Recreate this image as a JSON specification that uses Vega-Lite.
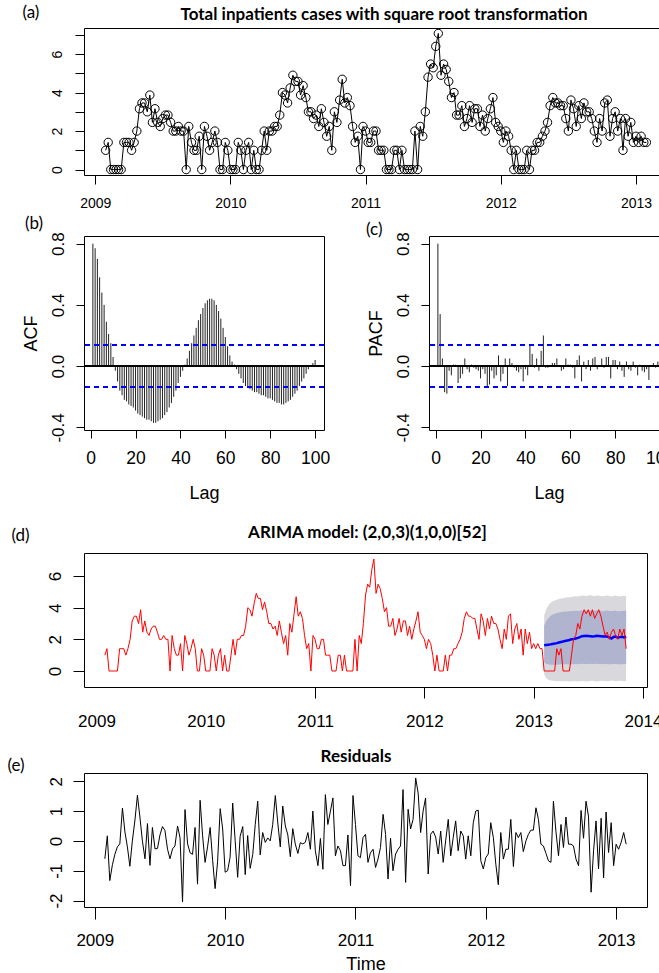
{
"$schema":"https://vega.github.io/schema/vega-lite/v6.json",
"background":"white",
"padding":{"left":6,"top":2,"right":0,"bottom":0},
"config":{
 "view":{"stroke":"black","strokeWidth":1},
 "axis":{"domain":false,"grid":false,"tickColor":"black","tickWidth":1,"labelColor":"black","labelFont":"Liberation Sans","titleFont":"Liberation Sans","titleFontWeight":"normal","titleColor":"black","labelFlush":false,"labelOverlap":false}
},
"datasets":{
"ts":[
{"t":2009.077,"v":1,"r":-0.6},{"t":2009.096,"v":1.41,"r":0.17},{"t":2009.115,"v":0,"r":-1.33},{"t":2009.135,"v":0,"r":-0.8},{"t":2009.154,"v":0,"r":-0.45},{"t":2009.173,"v":0,"r":-0.2},{"t":2009.192,"v":0,"r":-0.1},{"t":2009.212,"v":1.41,"r":1.1},{"t":2009.231,"v":1.41,"r":0.3},{"t":2009.25,"v":1.41,"r":-0.2},{"t":2009.269,"v":1,"r":-0.85},{"t":2009.288,"v":1.41,"r":0},{"t":2009.308,"v":2,"r":0.7},{"t":2009.327,"v":3.16,"r":1.53},{"t":2009.346,"v":3.46,"r":0.8},{"t":2009.365,"v":3.46,"r":0},{"t":2009.385,"v":3,"r":-0.6},{"t":2009.404,"v":3.87,"r":0.58},{"t":2009.423,"v":2.45,"r":-0.82},{"t":2009.442,"v":3.16,"r":0.45},{"t":2009.462,"v":2.45,"r":-0.27},{"t":2009.481,"v":2.24,"r":-0.25},{"t":2009.5,"v":2.65,"r":0.2},{"t":2009.519,"v":2.83,"r":0.48},{"t":2009.538,"v":2.83,"r":0.35},{"t":2009.558,"v":2.45,"r":-0.28},{"t":2009.577,"v":2,"r":-0.6},{"t":2009.596,"v":2,"r":-0.27},{"t":2009.615,"v":2.24,"r":-0.17},{"t":2009.635,"v":2,"r":0.5},{"t":2009.654,"v":2,"r":0.1},{"t":2009.673,"v":0,"r":-2.05},{"t":2009.692,"v":2.24,"r":1.05},{"t":2009.712,"v":1.41,"r":-0.1},{"t":2009.731,"v":1,"r":-0.4},{"t":2009.75,"v":1,"r":-0.45},{"t":2009.769,"v":1.73,"r":0.45},{"t":2009.788,"v":0,"r":-1.45},{"t":2009.808,"v":2.24,"r":1.36},{"t":2009.827,"v":1.73,"r":0.17},{"t":2009.846,"v":1,"r":-0.72},{"t":2009.865,"v":1.41,"r":-0.2},{"t":2009.885,"v":2,"r":0.45},{"t":2009.904,"v":1.41,"r":-0.65},{"t":2009.923,"v":0,"r":-1.6},{"t":2009.942,"v":0,"r":-0.7},{"t":2009.962,"v":1.41,"r":1.08},{"t":2009.981,"v":1,"r":0.4},
{"t":2010.0,"v":0,"r":-1.05},{"t":2010.019,"v":0,"r":-1.0},{"t":2010.038,"v":0,"r":-0.55},{"t":2010.058,"v":1.41,"r":1.27},{"t":2010.077,"v":1,"r":0},{"t":2010.096,"v":0,"r":-1.22},{"t":2010.115,"v":1,"r":0.15},{"t":2010.135,"v":1.41,"r":0.48},{"t":2010.154,"v":0,"r":-1.13},{"t":2010.173,"v":1,"r":0.18},{"t":2010.192,"v":0,"r":-0.92},{"t":2010.212,"v":0,"r":-0.45},{"t":2010.231,"v":1,"r":0.55},{"t":2010.25,"v":2,"r":1.33},{"t":2010.269,"v":1,"r":-0.47},{"t":2010.288,"v":2,"r":0.28},{"t":2010.308,"v":2,"r":-0.05},{"t":2010.327,"v":2.24,"r":0.1},{"t":2010.346,"v":2.24,"r":0},{"t":2010.365,"v":2.83,"r":0.55},{"t":2010.385,"v":4,"r":1.52},{"t":2010.404,"v":3.87,"r":0.6},{"t":2010.423,"v":3.46,"r":-0.2},{"t":2010.442,"v":4.24,"r":1.17},{"t":2010.462,"v":4.9,"r":0.5},{"t":2010.481,"v":4.58,"r":0.2},{"t":2010.5,"v":4.58,"r":-0.53},{"t":2010.519,"v":3.87,"r":0.41},{"t":2010.538,"v":4.36,"r":-0.1},{"t":2010.558,"v":3.74,"r":-0.42},{"t":2010.577,"v":3,"r":-0.06},{"t":2010.596,"v":3,"r":-0.1},{"t":2010.615,"v":2.65,"r":-0.05},{"t":2010.635,"v":2.83,"r":0.28},{"t":2010.654,"v":2.24,"r":-0.28},{"t":2010.673,"v":3.16,"r":1.0},{"t":2010.692,"v":2.45,"r":-0.33},{"t":2010.712,"v":1.73,"r":-0.83},{"t":2010.731,"v":2.24,"r":0.08},{"t":2010.75,"v":1,"r":-0.95},{"t":2010.769,"v":3,"r":1.55},{"t":2010.788,"v":2.45,"r":0.55},{"t":2010.808,"v":3.61,"r":1.0},{"t":2010.827,"v":4.69,"r":1.44},{"t":2010.846,"v":3.46,"r":-0.5},{"t":2010.865,"v":3.74,"r":-0.17},{"t":2010.885,"v":3.32,"r":-0.33},{"t":2010.904,"v":2.24,"r":-0.83},{"t":2010.923,"v":1.41,"r":-0.83},{"t":2010.942,"v":1.73,"r":0.2},{"t":2010.962,"v":0,"r":-1.5},{"t":2010.981,"v":2.24,"r":1.52},
{"t":2011.0,"v":2,"r":0.55},{"t":2011.019,"v":1.41,"r":-0.5},{"t":2011.038,"v":1.41,"r":-0.56},{"t":2011.058,"v":2,"r":0.11},{"t":2011.077,"v":2,"r":0.22},{"t":2011.096,"v":1,"r":-0.72},{"t":2011.115,"v":1,"r":-0.4},{"t":2011.135,"v":1,"r":-0.28},{"t":2011.154,"v":0,"r":-0.89},{"t":2011.173,"v":0,"r":-0.61},{"t":2011.192,"v":0,"r":-0.22},{"t":2011.212,"v":1,"r":0.89},{"t":2011.231,"v":1,"r":0.22},{"t":2011.25,"v":0,"r":-1.28},{"t":2011.269,"v":1,"r":0.09},{"t":2011.288,"v":0,"r":-1.0},{"t":2011.308,"v":0,"r":-0.44},{"t":2011.327,"v":0,"r":-0.28},{"t":2011.346,"v":0,"r":-0.17},{"t":2011.365,"v":2,"r":1.72},{"t":2011.385,"v":0,"r":-1.39},{"t":2011.404,"v":2.24,"r":1.06},{"t":2011.423,"v":1.73,"r":0.4},{"t":2011.442,"v":3,"r":0.72},{"t":2011.462,"v":4.8,"r":2.11},{"t":2011.481,"v":5.48,"r":1.6},{"t":2011.5,"v":5.29,"r":0.28},{"t":2011.519,"v":6.4,"r":1.0},{"t":2011.538,"v":7.07,"r":1.44},{"t":2011.558,"v":4.9,"r":-1.11},{"t":2011.577,"v":5.48,"r":0.22},{"t":2011.596,"v":5.2,"r":0.33},{"t":2011.615,"v":4.58,"r":0.13},{"t":2011.635,"v":3.74,"r":-0.44},{"t":2011.654,"v":4,"r":0.33},{"t":2011.673,"v":2.83,"r":-0.72},{"t":2011.692,"v":2.83,"r":0},{"t":2011.712,"v":3.32,"r":0.72},{"t":2011.731,"v":2.24,"r":-0.5},{"t":2011.75,"v":2.65,"r":0.11},{"t":2011.769,"v":3.32,"r":0.67},{"t":2011.788,"v":2.45,"r":-0.33},{"t":2011.808,"v":3.16,"r":0.33},{"t":2011.827,"v":3.16,"r":0.17},{"t":2011.846,"v":2.24,"r":-0.61},{"t":2011.865,"v":2.83,"r":0.17},{"t":2011.885,"v":2,"r":-0.5},{"t":2011.904,"v":2.65,"r":0.61},{"t":2011.923,"v":3.16,"r":1.0},{"t":2011.942,"v":3.74,"r":1.03},{"t":2011.962,"v":2.45,"r":-0.67},{"t":2011.981,"v":2.24,"r":-0.94},
{"t":2012.0,"v":2,"r":-0.56},{"t":2012.019,"v":1.41,"r":-0.44},{"t":2012.038,"v":2,"r":0.61},{"t":2012.058,"v":1.73,"r":0.11},{"t":2012.077,"v":1,"r":-0.78},{"t":2012.096,"v":0,"r":-1.47},{"t":2012.115,"v":1,"r":0.28},{"t":2012.135,"v":0,"r":-0.61},{"t":2012.154,"v":0,"r":-0.28},{"t":2012.173,"v":0,"r":-0.28},{"t":2012.192,"v":1,"r":0.72},{"t":2012.212,"v":0,"r":-0.86},{"t":2012.231,"v":1,"r":0.28},{"t":2012.25,"v":1,"r":0.11},{"t":2012.269,"v":1.41,"r":0.28},{"t":2012.288,"v":1.41,"r":-0.36},{"t":2012.308,"v":1.73,"r":0},{"t":2012.327,"v":2,"r":0.22},{"t":2012.346,"v":2.45,"r":0.36},{"t":2012.365,"v":3.32,"r":0.36},{"t":2012.385,"v":3.74,"r":1.11},{"t":2012.404,"v":3.46,"r":0.72},{"t":2012.423,"v":3.46,"r":-0.11},{"t":2012.442,"v":3.32,"r":-0.17},{"t":2012.462,"v":3.32,"r":-0.42},{"t":2012.481,"v":2.65,"r":-0.67},{"t":2012.5,"v":2,"r":-0.72},{"t":2012.519,"v":3.61,"r":1.33},{"t":2012.538,"v":3.16,"r":0.33},{"t":2012.558,"v":2.24,"r":-0.5},{"t":2012.577,"v":3.32,"r":0.55},{"t":2012.596,"v":2.65,"r":-0.22},{"t":2012.615,"v":3.46,"r":0.8},{"t":2012.635,"v":3,"r":-0.11},{"t":2012.654,"v":3,"r":-0.11},{"t":2012.673,"v":2.65,"r":-0.17},{"t":2012.692,"v":2,"r":-0.61},{"t":2012.712,"v":1.41,"r":-0.83},{"t":2012.731,"v":2.65,"r":1.02},{"t":2012.75,"v":2,"r":0.09},{"t":2012.769,"v":3.46,"r":1.33},{"t":2012.788,"v":3.61,"r":0.83},{"t":2012.808,"v":1.73,"r":-1.72},{"t":2012.827,"v":2.65,"r":-0.33},{"t":2012.846,"v":3,"r":0.67},{"t":2012.865,"v":2,"r":-0.94},{"t":2012.885,"v":2.65,"r":0.76},{"t":2012.904,"v":1,"r":-1.24},{"t":2012.923,"v":2.65,"r":0.97},{"t":2012.942,"v":1.73,"r":-0.39},{"t":2012.962,"v":2.45,"r":0.61},{"t":2012.981,"v":1.41,"r":-0.83},
{"t":2013.0,"v":1.73,"r":-0.11},{"t":2013.019,"v":1.41,"r":-0.28},{"t":2013.038,"v":1.73,"r":-0.06},{"t":2013.058,"v":1.41,"r":0.28},{"t":2013.077,"v":1.41,"r":-0.11},
{"t":2013.096,"v":0,"f":1.62,"l8":0.55,"h8":2.85,"l9":-0.2,"h9":3.5},
{"t":2013.115,"v":0,"f":1.64,"l8":0.45,"h8":3.15,"l9":-0.45,"h9":3.9},
{"t":2013.135,"v":0,"f":1.66,"l8":0.42,"h8":3.35,"l9":-0.55,"h9":4.15},
{"t":2013.154,"v":0,"f":1.68,"l8":0.4,"h8":3.48,"l9":-0.6,"h9":4.3},
{"t":2013.173,"v":0,"f":1.71,"l8":0.4,"h8":3.56,"l9":-0.62,"h9":4.4},
{"t":2013.192,"v":0,"f":1.73,"l8":0.39,"h8":3.62,"l9":-0.63,"h9":4.45},
{"t":2013.212,"v":1.41,"f":1.76,"l8":0.4,"h8":3.66,"l9":-0.64,"h9":4.5},
{"t":2013.231,"v":1,"f":1.8,"l8":0.41,"h8":3.7,"l9":-0.64,"h9":4.55},
{"t":2013.25,"v":1.41,"f":1.83,"l8":0.42,"h8":3.72,"l9":-0.65,"h9":4.58},
{"t":2013.269,"v":0,"f":1.86,"l8":0.42,"h8":3.74,"l9":-0.65,"h9":4.6},
{"t":2013.288,"v":0,"f":1.9,"l8":0.43,"h8":3.75,"l9":-0.64,"h9":4.62},
{"t":2013.308,"v":0,"f":1.93,"l8":0.42,"h8":3.76,"l9":-0.65,"h9":4.65},
{"t":2013.327,"v":0,"f":1.96,"l8":0.41,"h8":3.77,"l9":-0.66,"h9":4.66},
{"t":2013.346,"v":1,"f":2.0,"l8":0.42,"h8":3.78,"l9":-0.65,"h9":4.68},
{"t":2013.365,"v":2,"f":2.02,"l8":0.43,"h8":3.79,"l9":-0.64,"h9":4.7},
{"t":2013.385,"v":2.24,"f":2.05,"l8":0.44,"h8":3.8,"l9":-0.65,"h9":4.72},
{"t":2013.404,"v":3,"f":2.09,"l8":0.43,"h8":3.79,"l9":-0.66,"h9":4.7},
{"t":2013.423,"v":2.65,"f":2.14,"l8":0.45,"h8":3.81,"l9":-0.65,"h9":4.74},
{"t":2013.442,"v":3.46,"f":2.2,"l8":0.46,"h8":3.82,"l9":-0.63,"h9":4.76},
{"t":2013.462,"v":3.87,"f":2.21,"l8":0.45,"h8":3.81,"l9":-0.64,"h9":4.75},
{"t":2013.481,"v":3.61,"f":2.22,"l8":0.44,"h8":3.8,"l9":-0.66,"h9":4.73},
{"t":2013.5,"v":3.87,"f":2.21,"l8":0.45,"h8":3.82,"l9":-0.65,"h9":4.76},
{"t":2013.519,"v":3.46,"f":2.2,"l8":0.46,"h8":3.83,"l9":-0.63,"h9":4.78},
{"t":2013.538,"v":3.87,"f":2.18,"l8":0.45,"h8":3.81,"l9":-0.62,"h9":4.75},
{"t":2013.558,"v":3.32,"f":2.19,"l8":0.44,"h8":3.8,"l9":-0.64,"h9":4.74},
{"t":2013.577,"v":3.61,"f":2.22,"l8":0.46,"h8":3.82,"l9":-0.66,"h9":4.77},
{"t":2013.596,"v":3.87,"f":2.21,"l8":0.45,"h8":3.81,"l9":-0.65,"h9":4.76},
{"t":2013.615,"v":3.46,"f":2.2,"l8":0.44,"h8":3.8,"l9":-0.63,"h9":4.74},
{"t":2013.635,"v":2.83,"f":2.18,"l8":0.43,"h8":3.78,"l9":-0.62,"h9":4.72},
{"t":2013.654,"v":2.24,"f":2.19,"l8":0.44,"h8":3.8,"l9":-0.64,"h9":4.75},
{"t":2013.673,"v":2.45,"f":2.17,"l8":0.45,"h8":3.82,"l9":-0.65,"h9":4.77},
{"t":2013.692,"v":2,"f":2.12,"l8":0.43,"h8":3.79,"l9":-0.63,"h9":4.73},
{"t":2013.712,"v":2.45,"f":2.05,"l8":0.42,"h8":3.77,"l9":-0.6,"h9":4.7},
{"t":2013.731,"v":2.65,"f":2.15,"l8":0.44,"h8":3.8,"l9":-0.62,"h9":4.74},
{"t":2013.75,"v":2.24,"f":2.18,"l8":0.45,"h8":3.81,"l9":-0.64,"h9":4.76},
{"t":2013.769,"v":2,"f":2.1,"l8":0.43,"h8":3.78,"l9":-0.63,"h9":4.72},
{"t":2013.788,"v":2.65,"f":2.14,"l8":0.42,"h8":3.77,"l9":-0.61,"h9":4.7},
{"t":2013.808,"v":2.24,"f":2.16,"l8":0.43,"h8":3.79,"l9":-0.62,"h9":4.73},
{"t":2013.827,"v":2.65,"f":2.12,"l8":0.45,"h8":3.81,"l9":-0.64,"h9":4.75},
{"t":2013.846,"v":1.41,"f":2.17,"l8":0.44,"h8":3.8,"l9":-0.63,"h9":4.74}
],
"cf":[
{"lag":1,"acf":0.8,"pacf":0.8},{"lag":2,"acf":0.77,"pacf":0.34},{"lag":3,"acf":0.7,"pacf":0.05},{"lag":4,"acf":0.58,"pacf":-0.17},{"lag":5,"acf":0.48,"pacf":-0.18},{"lag":6,"acf":0.4,"pacf":-0.03},{"lag":7,"acf":0.29,"pacf":-0.06},{"lag":8,"acf":0.21,"pacf":0.01},{"lag":9,"acf":0.15,"pacf":0.01},{"lag":10,"acf":0.06,"pacf":-0.11},
{"lag":11,"acf":-0.03,"pacf":-0.08},{"lag":12,"acf":-0.1,"pacf":-0.05},{"lag":13,"acf":-0.16,"pacf":0.05},{"lag":14,"acf":-0.19,"pacf":-0.02},{"lag":15,"acf":-0.22,"pacf":-0.04},{"lag":16,"acf":-0.23,"pacf":0.01},{"lag":17,"acf":-0.25,"pacf":-0.01},{"lag":18,"acf":-0.26,"pacf":-0.02},{"lag":19,"acf":-0.27,"pacf":-0.03},{"lag":20,"acf":-0.29,"pacf":-0.08},
{"lag":21,"acf":-0.31,"pacf":-0.02},{"lag":22,"acf":-0.32,"pacf":-0.05},{"lag":23,"acf":-0.33,"pacf":-0.13},{"lag":24,"acf":-0.34,"pacf":-0.12},{"lag":25,"acf":-0.35,"pacf":-0.03},{"lag":26,"acf":-0.35,"pacf":-0.08},{"lag":27,"acf":-0.36,"pacf":-0.06},{"lag":28,"acf":-0.37,"pacf":0.07},{"lag":29,"acf":-0.37,"pacf":-0.1},{"lag":30,"acf":-0.36,"pacf":-0.05},
{"lag":31,"acf":-0.35,"pacf":0.05},{"lag":32,"acf":-0.34,"pacf":-0.13},{"lag":33,"acf":-0.32,"pacf":0.05},{"lag":34,"acf":-0.3,"pacf":0.02},{"lag":35,"acf":-0.27,"pacf":-0.01},{"lag":36,"acf":-0.24,"pacf":-0.03},{"lag":37,"acf":-0.2,"pacf":-0.04},{"lag":38,"acf":-0.16,"pacf":-0.02},{"lag":39,"acf":-0.11,"pacf":-0.1},{"lag":40,"acf":-0.07,"pacf":-0.02},
{"lag":41,"acf":-0.03,"pacf":-0.06},{"lag":42,"acf":0.01,"pacf":0.14},{"lag":43,"acf":0.05,"pacf":0.08},{"lag":44,"acf":0.1,"pacf":-0.01},{"lag":45,"acf":0.15,"pacf":0.05},{"lag":46,"acf":0.2,"pacf":-0.03},{"lag":47,"acf":0.25,"pacf":0.1},{"lag":48,"acf":0.3,"pacf":0.2},{"lag":49,"acf":0.34,"pacf":-0.01},{"lag":50,"acf":0.38,"pacf":-0.01},
{"lag":51,"acf":0.41,"pacf":0},{"lag":52,"acf":0.43,"pacf":0.02},{"lag":53,"acf":0.44,"pacf":0.02},{"lag":54,"acf":0.44,"pacf":0.05},{"lag":55,"acf":0.43,"pacf":0},{"lag":56,"acf":0.4,"pacf":-0.03},{"lag":57,"acf":0.36,"pacf":-0.02},{"lag":58,"acf":0.31,"pacf":0.05},{"lag":59,"acf":0.25,"pacf":0.01},{"lag":60,"acf":0.19,"pacf":0.01},
{"lag":61,"acf":0.13,"pacf":-0.01},{"lag":62,"acf":0.07,"pacf":-0.08},{"lag":63,"acf":0.03,"pacf":0.04},{"lag":64,"acf":0.01,"pacf":0.07},{"lag":65,"acf":-0.02,"pacf":-0.1},{"lag":66,"acf":-0.05,"pacf":0.03},{"lag":67,"acf":-0.08,"pacf":-0.02},{"lag":68,"acf":-0.11,"pacf":0.04},{"lag":69,"acf":-0.13,"pacf":-0.03},{"lag":70,"acf":-0.14,"pacf":0.05},
{"lag":71,"acf":-0.15,"pacf":0.06},{"lag":72,"acf":-0.16,"pacf":-0.02},{"lag":73,"acf":-0.17,"pacf":0},{"lag":74,"acf":-0.17,"pacf":0.05},{"lag":75,"acf":-0.18,"pacf":-0.01},{"lag":76,"acf":-0.19,"pacf":0.06},{"lag":77,"acf":-0.19,"pacf":0.06},{"lag":78,"acf":-0.2,"pacf":-0.08},{"lag":79,"acf":-0.21,"pacf":0.04},{"lag":80,"acf":-0.21,"pacf":0.04},
{"lag":81,"acf":-0.22,"pacf":-0.02},{"lag":82,"acf":-0.23,"pacf":0.03},{"lag":83,"acf":-0.24,"pacf":-0.03},{"lag":84,"acf":-0.24,"pacf":-0.07},{"lag":85,"acf":-0.25,"pacf":0.03},{"lag":86,"acf":-0.25,"pacf":-0.02},{"lag":87,"acf":-0.24,"pacf":-0.03},{"lag":88,"acf":-0.23,"pacf":0.03},{"lag":89,"acf":-0.22,"pacf":-0.01},{"lag":90,"acf":-0.2,"pacf":-0.06},
{"lag":91,"acf":-0.18,"pacf":0.01},{"lag":92,"acf":-0.16,"pacf":-0.03},{"lag":93,"acf":-0.13,"pacf":-0.04},{"lag":94,"acf":-0.1,"pacf":-0.02},{"lag":95,"acf":-0.08,"pacf":-0.09},{"lag":96,"acf":-0.05,"pacf":0},{"lag":97,"acf":-0.02,"pacf":0.02},{"lag":98,"acf":0,"pacf":-0.01},{"lag":99,"acf":0.02,"pacf":0.03},{"lag":100,"acf":0.04,"pacf":-0.05}
]
},
"spacing":19,
"vconcat":[
 {"concat":[
  {"width":584,"height":147,"data":{"name":"ts"},
   "transform":[{"filter":"isValid(datum.r)"}],
   "encoding":{
    "x":{"field":"t","type":"quantitative","scale":{"domain":[2008.917,2013.237],"nice":false,"zero":false},
     "axis":{"values":[2009,2010,2011,2012,2013],"format":"d","tickSize":9,"labelFontSize":14,"labelPadding":23,"labelBaseline":"alphabetic",
      "title":"Total inpatients cases with square root transformation","titleFont":"Lato","titleFontSize":17,"titleFontWeight":"bold","titleAngle":0,"titleX":299.5,"titleY":-156,"titleAlign":"center","titleBaseline":"alphabetic"}},
    "y":{"field":"v","type":"quantitative","scale":{"domain":[-0.283,7.354],"nice":false,"zero":false},
     "axis":{"values":[0,1,2,3,4,5,6,7],"labelOpacity":{"condition":{"test":"datum.value % 2 !== 0","value":0},"value":1},"tickSize":9,"labelFontSize":14,"labelAngle":-90,"labelAlign":"center","labelBaseline":"alphabetic","labelPadding":14,
      "title":"(a)","titleFont":"Lato","titleFontSize":17,"titleAngle":0,"titleX":-62,"titleY":-11,"titleAlign":"left","titleBaseline":"alphabetic"}}
   },
   "layer":[
    {"mark":{"type":"line","color":"black","strokeWidth":1}},
    {"mark":{"type":"point","shape":"circle","filled":false,"color":"black","size":70,"strokeWidth":1,"opacity":1}}
   ]},
  {"hconcat":[
   {"width":240,"height":194,"data":{"name":"cf"},
    "layer":[
     {"mark":{"type":"rule","color":"#222222","strokeWidth":1},
      "encoding":{
       "x":{"field":"lag","type":"quantitative","scale":{"domain":[-2.96,103.96],"nice":false,"zero":false},
        "axis":{"values":[0,20,40,60,80,100],"tickSize":8,"labelFontSize":17.5,"labelPadding":25,"labelBaseline":"alphabetic","title":"Lag","titleFontSize":18,"titleAngle":0,"titleX":120,"titleY":68,"titleAlign":"center","titleBaseline":"alphabetic"}},
       "y":{"field":"acf","type":"quantitative","scale":{"domain":[-0.417,0.85],"nice":false,"zero":false},
        "axis":{"values":[-0.4,-0.2,0,0.2,0.4,0.6,0.8],"labelExpr":"replace(format(datum.value, '.1f'), '\u2212', '-')","labelOpacity":{"condition":{"test":"abs(round(datum.value*10)) % 4 !== 0","value":0},"value":1},"tickSize":8,"labelFontSize":17,"labelAngle":-90,"labelAlign":"center","labelBaseline":"alphabetic","labelPadding":13,
         "title":"ACF","titleFontSize":18,"titlePadding":9}},
       "y2":{"datum":0}}},
     {"mark":{"type":"rule","color":"black","strokeWidth":1},"encoding":{"y":{"datum":0}}},
     {"mark":{"type":"rule","color":"#0000ff","strokeWidth":1,"strokeDash":[5,4]},"encoding":{"y":{"datum":0.1356}}},
     {"mark":{"type":"rule","color":"#0000ff","strokeWidth":1,"strokeDash":[5,4]},"encoding":{"y":{"datum":-0.1356}}},
     {"mark":{"type":"rule","strokeOpacity":0},
      "encoding":{"x":{"field":"lag","type":"quantitative","axis":{"orient":"top","labels":false,"ticks":false,"domain":false,"title":"(b)","titleFont":"Lato","titleFontSize":17,"titleAngle":0,"titleX":-41.5,"titleY":-8,"titleAlign":"right","titleBaseline":"alphabetic"}},
       "y":{"field":"acf","type":"quantitative"},"y2":{"datum":0}}}
    ],
    "resolve":{"axis":{"x":"independent"}}},
   {"width":240,"height":194,"data":{"name":"cf"},
    "layer":[
     {"mark":{"type":"rule","color":"#222222","strokeWidth":1},
      "encoding":{
       "x":{"field":"lag","type":"quantitative","scale":{"domain":[-2.96,103.96],"nice":false,"zero":false},
        "axis":{"values":[0,20,40,60,80,100],"tickSize":8,"labelFontSize":17.5,"labelPadding":25,"labelBaseline":"alphabetic","title":"Lag","titleFontSize":18,"titleAngle":0,"titleX":120,"titleY":68,"titleAlign":"center","titleBaseline":"alphabetic"}},
       "y":{"field":"pacf","type":"quantitative","scale":{"domain":[-0.417,0.85],"nice":false,"zero":false},
        "axis":{"values":[-0.4,-0.2,0,0.2,0.4,0.6,0.8],"labelExpr":"replace(format(datum.value, '.1f'), '\u2212', '-')","labelOpacity":{"condition":{"test":"abs(round(datum.value*10)) % 4 !== 0","value":0},"value":1},"tickSize":8,"labelFontSize":17,"labelAngle":-90,"labelAlign":"center","labelBaseline":"alphabetic","labelPadding":13,
         "title":"PACF","titleFontSize":18,"titlePadding":9}},
       "y2":{"datum":0}}},
     {"mark":{"type":"rule","color":"black","strokeWidth":1},"encoding":{"y":{"datum":0}}},
     {"mark":{"type":"rule","color":"#0000ff","strokeWidth":1,"strokeDash":[5,4]},"encoding":{"y":{"datum":0.1356}}},
     {"mark":{"type":"rule","color":"#0000ff","strokeWidth":1,"strokeDash":[5,4]},"encoding":{"y":{"datum":-0.1356}}},
     {"mark":{"type":"rule","strokeOpacity":0},
      "encoding":{"x":{"field":"lag","type":"quantitative","axis":{"orient":"top","labels":false,"ticks":false,"domain":false,"title":"(c)","titleFont":"Lato","titleFontSize":17,"titleAngle":0,"titleX":-47,"titleY":-2,"titleAlign":"right","titleBaseline":"alphabetic"}},
       "y":{"field":"pacf","type":"quantitative"},"y2":{"datum":0}}}
    ],
    "resolve":{"axis":{"x":"independent"}}}
  ],"spacing":34}
 ],"columns":1,"align":"none","spacing":2},
 {"concat":[
  {"width":563,"height":134,"data":{"name":"ts"},
   "encoding":{"x":{"field":"t","type":"quantitative","scale":{"domain":[2008.886,2014.037],"nice":false,"zero":false},
    "axis":{"values":[2009,2010,2011,2012,2013,2014],"format":"d","tickSize":11,"tickOpacity":{"condition":{"test":"datum.value < 2011","value":0},"value":1},"labelFontSize":17,"labelPadding":28,"labelBaseline":"alphabetic",
     "title":"ARIMA model: (2,0,3)(1,0,0)[52]","titleFont":"Lato","titleFontSize":17,"titleFontWeight":"bold","titleAngle":0,"titleX":283,"titleY":-150,"titleAlign":"center","titleBaseline":"alphabetic"}}},
   "layer":[
    {"transform":[{"filter":"isValid(datum.f)"}],"mark":{"type":"area","color":"#d9d9dd","opacity":1},
     "encoding":{"y":{"field":"l9","type":"quantitative","scale":{"domain":[-1.01,7.45],"nice":false,"zero":false},
      "axis":{"values":[0,2,4,6],"tickSize":11,"labelFontSize":17,"labelAngle":-90,"labelAlign":"center","labelBaseline":"alphabetic","labelPadding":13,
       "title":"(d)","titleFont":"Lato","titleFontSize":17,"titleAngle":0,"titleX":-73,"titleY":-13,"titleAlign":"left","titleBaseline":"alphabetic"}},
      "y2":{"field":"h9"}}},
    {"transform":[{"filter":"isValid(datum.f)"}],"mark":{"type":"area","color":"#b0b4cf","opacity":1},"encoding":{"y":{"field":"l8","type":"quantitative"},"y2":{"field":"h8"}}},
    {"transform":[{"filter":"isValid(datum.f)"}],"mark":{"type":"line","color":"#0000ff","strokeWidth":2.5},"encoding":{"y":{"field":"f","type":"quantitative"}}},
    {"mark":{"type":"line","color":"#ff0000","strokeWidth":1},"encoding":{"y":{"field":"v","type":"quantitative"}}}
   ]},
  {"width":563,"height":134,"data":{"name":"ts"},
   "transform":[{"filter":"isValid(datum.r)"}],
   "encoding":{
    "x":{"field":"t","type":"quantitative","scale":{"domain":[2008.917,2013.237],"nice":false,"zero":false},
     "axis":{"values":[2009,2010,2011,2012,2013],"format":"d","tickSize":12,"labelFontSize":17,"labelPadding":26,"labelBaseline":"alphabetic","title":"Time","titleFontSize":18,"titleAngle":0,"titleX":281.5,"titleY":62,"titleAlign":"center","titleBaseline":"alphabetic"}},
    "y":{"field":"r","type":"quantitative","scale":{"domain":[-2.216,2.276],"nice":false,"zero":false},
     "axis":{"values":[-2,-1,0,1,2],"labelExpr":"replace(datum.label, '\u2212', '-')","tickSize":11,"labelFontSize":17,"labelAngle":-90,"labelAlign":"center","labelBaseline":"alphabetic","labelPadding":12,
      "title":"(e)","titleFont":"Lato","titleFontSize":17,"titleAngle":0,"titleX":-77,"titleY":-3,"titleAlign":"left","titleBaseline":"alphabetic"}}},
   "layer":[
    {"mark":{"type":"line","color":"black","strokeWidth":1}},
    {"mark":{"type":"line","color":"black","strokeOpacity":0},
     "encoding":{"x":{"field":"t","type":"quantitative","axis":{"orient":"top","labels":false,"ticks":false,"domain":false,"title":"Residuals","titleFont":"Lato","titleFontSize":17,"titleFontWeight":"bold","titleAngle":0,"titleX":271.5,"titleY":-12,"titleAlign":"center","titleBaseline":"alphabetic"}}}}
   ],
   "resolve":{"axis":{"x":"independent"}}}
 ],"columns":1,"align":"none","spacing":16}
]
}
